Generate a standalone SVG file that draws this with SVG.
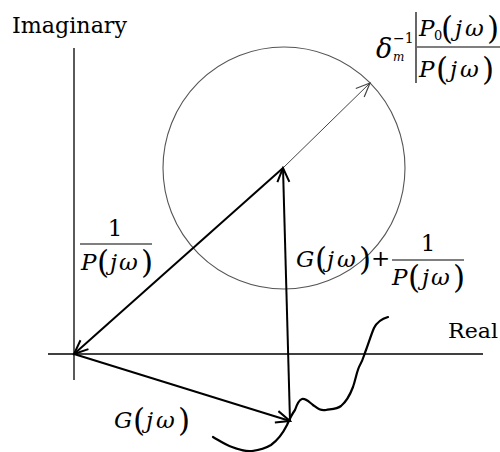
<svg xmlns="http://www.w3.org/2000/svg" width="500" height="452" viewBox="0 0 500 452">
<defs>
<style>
.ax{stroke:#000;stroke-width:1.3;fill:none}
.vec{stroke:#000;stroke-width:2;fill:none}
.thin{stroke:#444;stroke-width:1;fill:none}
.bar{stroke:#000;stroke-width:1.2}
.m{font-style:italic;font-size:23px}
.n{font-style:normal;font-size:23px}
.p{font-style:normal;font-size:31px}
</style>
<marker id="ah" viewBox="-16 -8 18 16" refX="0" refY="0" markerWidth="18" markerHeight="16" markerUnits="userSpaceOnUse" orient="auto">
<path d="M-14,-6 L0,0 L-14,6" fill="none" stroke="#000" stroke-width="2"/>
</marker>
<marker id="aht" viewBox="-16 -8 18 16" refX="0" refY="0" markerWidth="18" markerHeight="16" markerUnits="userSpaceOnUse" orient="auto">
<path d="M-14,-6 L0,0 L-14,6" fill="none" stroke="#444" stroke-width="1.2"/>
</marker>
</defs>
<rect width="500" height="452" fill="#fff"/>

<g id="axes">
<line class="ax" x1="48" y1="354" x2="483" y2="354"/>
<line class="ax" x1="74" y1="48" x2="74" y2="380"/>
</g>

<g id="circle">
<circle cx="284" cy="168" r="121" fill="none" stroke="#555" stroke-width="1.1"/>
</g>

<g id="connectors">
<line class="thin" x1="283" y1="168" x2="370" y2="83" marker-end="url(#aht)"/>
<line class="vec" x1="283" y1="168" x2="74" y2="354" marker-end="url(#ah)"/>
<line class="vec" x1="74" y1="354" x2="290" y2="421" marker-end="url(#ah)"/>
<line class="vec" x1="290" y1="421" x2="283" y2="168" marker-end="url(#ah)"/>
</g>

<g id="nyquist">
<path d="M213,437 C220,441 226,445 232,447 C240,450 246,452 252,451 C260,450 266,448 271,445 C278,440 283,433 287,425 C290,418 292,414 295,410 C297,404 299,400 302,399 C306,398 309,402 313,405 C317,408 320,411 326,410 C332,409 337,409 341,406 C347,401 350,395 353,387 C356,378 357,370 360,365 C363,360 364,355 366,350 C369,342 371,335 374,328 C377,322 381,319 388,317" fill="none" stroke="#000" stroke-width="2.2" stroke-linecap="round" stroke-linejoin="round"/>
</g>

<g font-family="DejaVu Serif" fill="#000">
<g id="axis-labels">
<text id="imag" x="12" y="33" font-size="23" textLength="115" lengthAdjust="spacingAndGlyphs">Imaginary</text>
<text id="real" x="448" y="338" font-size="21" textLength="50" lengthAdjust="spacingAndGlyphs">Real</text>
</g>

<g id="label-invP">
<text class="n" x="115" y="236" text-anchor="middle">1</text>
<line class="bar" x1="80" y1="244" x2="152" y2="244"/>
<text class="m"><tspan x="81" y="270">P</tspan><tspan class="p" x="97" y="273">(</tspan><tspan x="110" y="270">j</tspan><tspan x="119" y="270">ω</tspan><tspan class="p" x="141" y="273">)</tspan></text>
</g>

<g id="label-sum">
<text class="m"><tspan x="296" y="267">G</tspan><tspan class="p" x="315" y="270">(</tspan><tspan x="327" y="267">j</tspan><tspan x="337" y="267">ω</tspan><tspan class="p" x="359" y="270">)</tspan><tspan class="n" x="371" y="266">+</tspan></text>
<text class="n" x="428" y="251" text-anchor="middle">1</text>
<line class="bar" x1="392" y1="260" x2="464" y2="260"/>
<text class="m"><tspan x="392" y="285">P</tspan><tspan class="p" x="408" y="288">(</tspan><tspan x="422" y="285">j</tspan><tspan x="431" y="285">ω</tspan><tspan class="p" x="453" y="288">)</tspan></text>
</g>

<g id="label-G">
<text class="m"><tspan x="114" y="428">G</tspan><tspan class="p" x="133" y="431">(</tspan><tspan x="146" y="428">j</tspan><tspan x="156" y="428">ω</tspan><tspan class="p" x="178" y="431">)</tspan></text>
</g>

<g id="label-radius">
<text class="m"><tspan x="376" y="58" font-size="27">δ</tspan><tspan font-style="normal" x="393" y="43" font-size="14">−1</tspan><tspan x="393" y="61" font-size="12">m</tspan></text>
<line class="bar" x1="416" y1="12" x2="416" y2="83"/>
<text class="m"><tspan x="419" y="36">P</tspan><tspan font-style="normal" x="434" y="40" font-size="13">0</tspan><tspan class="p" x="441" y="39">(</tspan><tspan x="455" y="36">j</tspan><tspan x="465" y="36">ω</tspan><tspan class="p" x="487" y="39">)</tspan></text>
<line class="bar" x1="417" y1="47" x2="500" y2="47"/>
<text class="m"><tspan x="419" y="77">P</tspan><tspan class="p" x="436" y="80">(</tspan><tspan x="450" y="77">j</tspan><tspan x="460" y="77">ω</tspan><tspan class="p" x="482" y="80">)</tspan></text>
</g>
</g>
</svg>
